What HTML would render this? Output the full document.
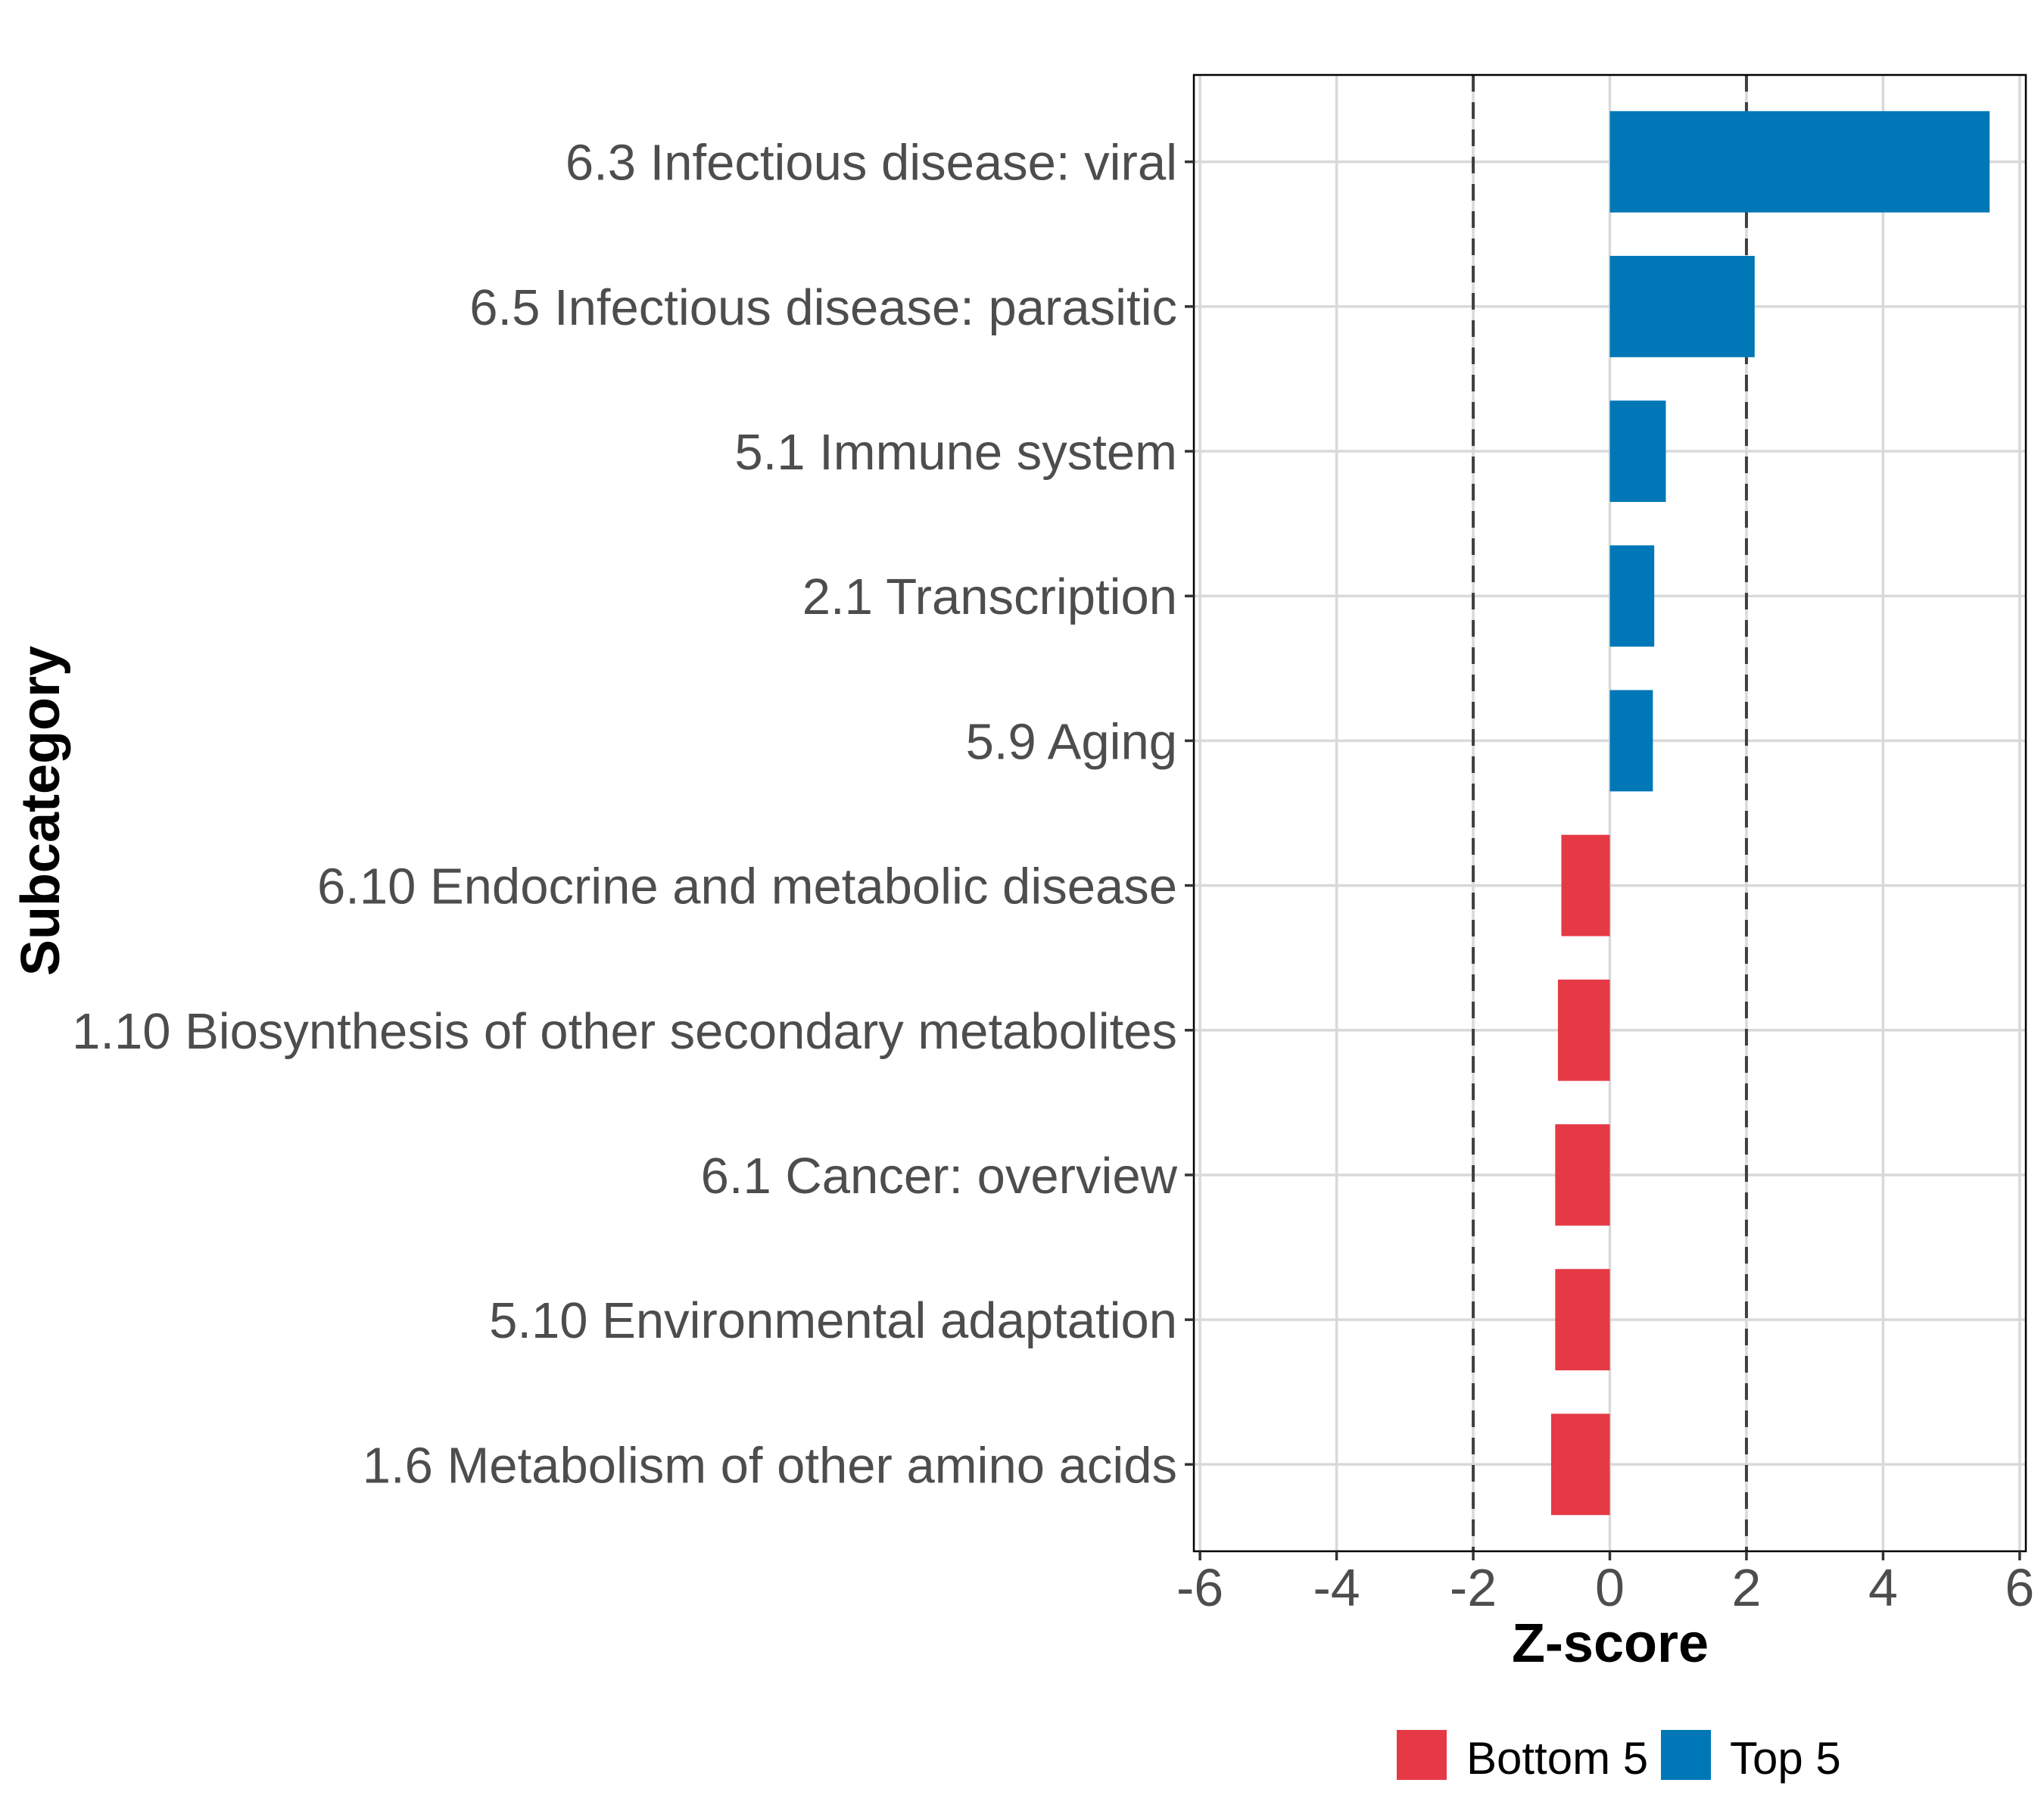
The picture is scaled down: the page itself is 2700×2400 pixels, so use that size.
<!DOCTYPE html>
<html><head><meta charset="utf-8">
<style>html,body{margin:0;padding:0;background:#fff}svg{display:block}</style></head>
<body>
<svg id="chart" width="2700" height="2400" viewBox="0 0 2700 2400" xmlns="http://www.w3.org/2000/svg" font-family="'Liberation Sans', Arial, sans-serif">
<rect x="0" y="0" width="2700" height="2400" fill="#fff"/>
<g id="grid"></g>
<g id="refs"></g>
<g id="bars"></g>
<rect x="1577" y="99" width="1099" height="1950" fill="none" stroke="#000" stroke-width="2.5"/>
<g id="xaxis"></g>
<g id="yaxis"></g>
<text x="2127" y="2195" text-anchor="middle" font-size="72" font-weight="bold" fill="#000">Z-score</text>
<text transform="translate(78,1071) rotate(-90)" text-anchor="middle" font-size="72" font-weight="bold" fill="#000">Subcategory</text>
<g>
<rect x="1845" y="2285" width="66" height="66" fill="#E63946"/>
<text x="1937" y="2343" font-size="60" fill="#000">Bottom 5</text>
<rect x="2194" y="2285" width="66" height="66" fill="#0077B6"/>
<text x="2285" y="2343" font-size="60" fill="#000">Top 5</text>
</g>
</svg>
<script>
const categories = ["6.3 Infectious disease: viral","6.5 Infectious disease: parasitic","5.1 Immune system","2.1 Transcription","5.9 Aging","6.10 Endocrine and metabolic disease","1.10 Biosynthesis of other secondary metabolites","6.1 Cancer: overview","5.10 Environmental adaptation","1.6 Metabolism of other amino acids"];
const zscores = [5.56, 2.12, 0.82, 0.65, 0.63, -0.71, -0.76, -0.80, -0.80, -0.86];
const groups = ["Top 5","Top 5","Top 5","Top 5","Top 5","Bottom 5","Bottom 5","Bottom 5","Bottom 5","Bottom 5"];
const xTicks = [-6,-4,-2,0,2,4,6];
const xTickLabels = ["-6","-4","-2","0","2","4","6"];
const refLines = [-2, 2];

const NS = "http://www.w3.org/2000/svg";
const panel = {l:1577, r:2676, t:99, b:2049};
const xMin = -6.09, xMax = 6.09;
function xScale(v){ return panel.l + (v - xMin) / (xMax - xMin) * (panel.r - panel.l); }
const unit = (panel.b - panel.t) / (categories.length - 1 + 1.2);
function yScale(i){ return panel.t + (0.6 + i) * unit; }
const colors = {"Top 5":"#0077B6","Bottom 5":"#E63946"};
function mk(tag, attrs, parent){ const e=document.createElementNS(NS,tag); for(const k in attrs) e.setAttribute(k,attrs[k]); parent.appendChild(e); return e; }

const grid=document.getElementById('grid');
xTicks.forEach(function(t){
  const l=mk('line',{x1:xScale(t),x2:xScale(t),y1:panel.t,y2:panel.b,stroke:'#d9d9d9','stroke-width':3.5},grid);
  
  
});
categories.forEach(function(c,i){
  const l=mk('line',{x1:panel.l,x2:panel.r,y1:yScale(i),y2:yScale(i),stroke:'#d9d9d9','stroke-width':3.5},grid);
  
  
});
const refs=document.getElementById('refs');
refLines.forEach(function(v){
  const l=mk('line',{x1:xScale(v),x2:xScale(v),y1:panel.t,y2:panel.b,stroke:'#404040','stroke-width':4,'stroke-dasharray':'22 14'},refs);
  
  
});
const bars=document.getElementById('bars');
const bh = unit*0.7;
zscores.forEach(function(v,i){
  const x0=xScale(0), x1=xScale(v);
  const r=mk('rect',{x:Math.min(x0,x1),y:yScale(i)-bh/2,width:Math.abs(x1-x0),height:bh,fill:colors[groups[i]]},bars);
  
  
});
const xa=document.getElementById('xaxis');
xTicks.forEach(function(t,i){
  const l=mk('line',{x1:xScale(t),x2:xScale(t),y1:panel.b,y2:panel.b+12,stroke:'#333','stroke-width':3.5},xa);
  
  
  const tx=mk('text',{x:xScale(t),y:2121,'text-anchor':'middle','font-size':70,fill:'#4d4d4d'},xa);
  tx.textContent=xTickLabels[i];
  
  
});
const ya=document.getElementById('yaxis');
categories.forEach(function(c,i){
  const l=mk('line',{x1:panel.l-12,x2:panel.l,y1:yScale(i),y2:yScale(i),stroke:'#333','stroke-width':3.5},ya);
  
  
  const tx=mk('text',{x:panel.l-22,y:yScale(i)+24,'text-anchor':'end','font-size':67,fill:'#4d4d4d'},ya);
  tx.textContent=c;
  
  
});
</script>
</body></html>
